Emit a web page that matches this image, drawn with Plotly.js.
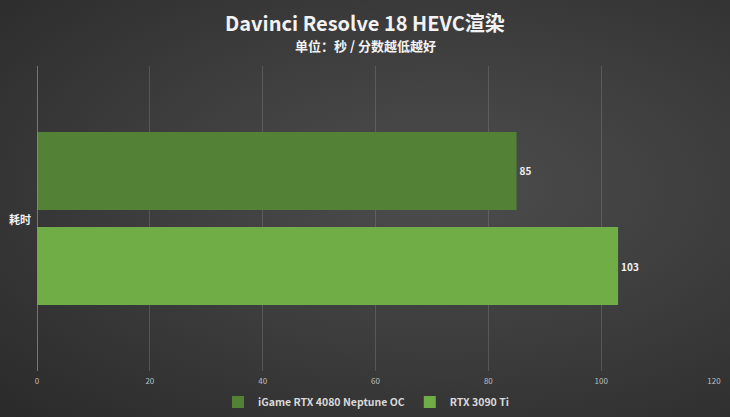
<!DOCTYPE html>
<html>
<head>
<meta charset="utf-8">
<script src="https://cdn.plot.ly/plotly-3.0.1.min.js"></script>
<style>
html,body{margin:0;padding:0;}
body{width:730px;height:417px;background:radial-gradient(ellipse at 60% 45%, #4d4d4d 0%, #3e3e3e 45%, #2a2a2a 100%);}
#chart{width:730px;height:417px;}
</style>
</head>
<body>
<div id="chart"></div>
<script>
const categories = ["耗时"];
const seriesNames = ["iGame RTX 4080 Neptune OC", "RTX 3090 Ti"];
const values4080 = [85];
const values3090ti = [103];
const xTicks = [0, 20, 40, 60, 80, 100, 120];
const colors = ["#538135", "#70ad47"];
const font = '"Noto Sans CJK SC", "Open Sans", sans-serif';

const mk = (name, vals, color) => ({
  type: 'bar', orientation: 'h', name: name,
  y: categories, x: vals,
  marker: {color: color, line: {width: 0}},
  text: vals.map(String), textposition: 'outside',
  textfont: {color: '#f2f2f2', size: 10, family: font, weight: 'bold'},
  cliponaxis: false, hoverinfo: 'none'
});

const data = [
  mk(seriesNames[0], values4080, colors[0]),
  mk(seriesNames[1], values3090ti, colors[1])
];

const mT = 66, mB = 46, mL = 37, mR = 16;
const plotH = 417 - mT - mB;
const plotW = 730 - mL - mR;

const layout = {
  width: 730, height: 417,
  paper_bgcolor: 'rgba(0,0,0,0)', plot_bgcolor: 'rgba(0,0,0,0)',
  margin: {l: mL, r: mR, t: mT, b: mB, autoexpand: false},
  barmode: 'group', bargap: 0.377, bargroupgap: 0.18,
  font: {family: font, color: '#d9d9d9'},
  xaxis: {
    range: [0, 120], tickvals: xTicks, ticktext: xTicks.map(String),
    showgrid: true, gridcolor: 'rgba(140,140,140,0.35)', gridwidth: 1,
    zeroline: false, showline: false, ticks: '',
    tickfont: {size: 8, color: '#bfbfbf', family: font}, ticklabelstandoff: 4
  },
  yaxis: {
    autorange: 'reversed', showticklabels: false, showgrid: false,
    zeroline: false, showline: false, ticks: ''
  },
  shapes: [{type: 'line', xref: 'x', yref: 'paper', x0: 0, x1: 0, y0: 0, y1: 1,
            line: {color: '#8c8c8c', width: 1.5}}],
  showlegend: true,
  legend: {orientation: 'h', x: (366 - mL) / plotW, xanchor: 'center', y: -(402 - (417 - mB)) / plotH, yanchor: 'middle',
           font: {size: 10.5, color: '#d9d9d9', family: font, weight: 'bold'},
           itemwidth: 30, bgcolor: 'rgba(0,0,0,0)', traceorder: 'normal'},
  annotations: [
    {text: 'Davinci Resolve 18 HEVC渲染', xref: 'paper', yref: 'paper', x: (365 - mL) / plotW, y: 1 + (mT - 22) / plotH,
     xanchor: 'center', yanchor: 'middle', showarrow: false,
     font: {size: 20, color: '#f2f2f2', family: font, weight: 'bold'}},
    {text: '单位：秒 / 分数越低越好', xref: 'paper', yref: 'paper', x: (365 - mL) / plotW, y: 1 + (mT - 46) / plotH,
     xanchor: 'center', yanchor: 'middle', showarrow: false,
     font: {size: 13, color: '#f2f2f2', family: font, weight: 'bold'}},
    {text: '耗时', xref: 'paper', yref: 'paper', x: 0, y: 0.5, xanchor: 'right', yanchor: 'middle', xshift: -4,
     showarrow: false, font: {size: 11, color: '#f2f2f2', family: font, weight: 'bold'}}
  ]
};

Plotly.newPlot('chart', data, layout, {displayModeBar: false, staticPlot: true});
</script>
</body>
</html>
